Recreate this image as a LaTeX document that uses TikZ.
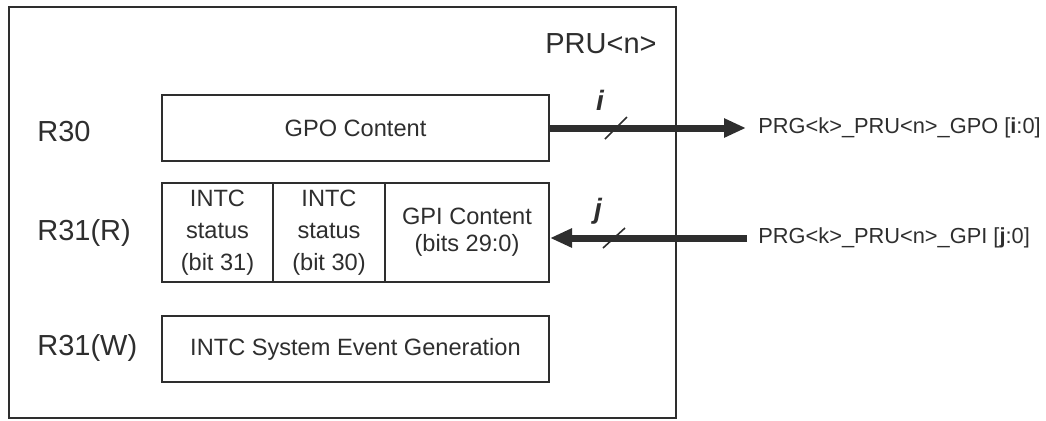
\documentclass[tikz,border=0pt]{standalone}
\usepackage{fontspec}
\setmainfont{Liberation Sans}
\usetikzlibrary{arrows.meta}
\colorlet{ink}{black!82}

\begin{document}
\begin{tikzpicture}[x=0.5pt,y=-0.5pt,
  regbox/.style={draw=ink,line width=1pt,inner sep=0pt,text=ink,align=center,
    font=\fontsize{11.8}{16}\selectfont},
  reglabel/.style={anchor=west,inner sep=0pt,text=ink,font=\fontsize{14.5}{17}\selectfont},
  pinlabel/.style={anchor=west,inner sep=0pt,text=ink,font=\fontsize{10.9}{13}\selectfont},
  bus/.style={draw=ink,line width=3.5pt,-{Triangle[length=11pt,width=9pt]}},
  buswidth/.style={inner sep=0pt,text=ink,font=\fontsize{14}{16}\selectfont\bfseries\itshape},
  tick/.style={draw=ink,line width=0.8pt}]
  \useasboundingbox (0,0) rectangle (1046,420);

  \node[draw=ink,line width=1pt,minimum width=333.5pt,minimum height=205.5pt] (pru) at (342.5,212.5) {};
  \node[anchor=east,inner sep=0pt,text=ink,font=\fontsize{14.5}{17}\selectfont] (pruname) at (657,44) {PRU<n>};

  \node[reglabel] (r30) at (37,132) {R30};
  \node[reglabel] (r31r) at (37,233) {R31(R)};
  \node[reglabel] (r31w) at (37,348) {R31(W)};

  \node[regbox,minimum width=193.5pt,minimum height=33pt] (gpo) at (355.5,128) {GPO Content};
  \node[regbox,minimum width=55.5pt,minimum height=49.5pt] (st31) at (217.5,232.5) {INTC\\status\\(bit 31)};
  \node[regbox,minimum width=56pt,minimum height=49.5pt] (st30) at (329,232.5) {INTC\\status\\(bit 30)};
  \node[regbox,minimum width=82pt,minimum height=49.5pt,font=\fontsize{11.8}{13.5}\selectfont] (gpi) at (467,232.5) {GPI Content\\(bits 29:0)};
  \node[regbox,minimum width=193.5pt,minimum height=33pt] (evgen) at (355.5,349) {INTC System Event Generation};

  \node[pinlabel] (gpoout) at (758,128) {PRG<k>\_PRU<n>\_GPO [\textbf{i}:0]};
  \node[pinlabel] (gpiin) at (758,238) {PRG<k>\_PRU<n>\_GPI [\textbf{j}:0]};

  \draw[bus,shorten >=6pt] (gpo.east) -- (gpo.east -| gpoout.west);
  \draw[bus,shorten <=5.5pt] (gpiin.west) -- (gpi.east |- gpiin.west);

  \coordinate (islash) at (616,128);
  \coordinate (jslash) at (614,238);
  \draw[tick] (islash) ++(-11,11) -- ++(22,-22);
  \draw[tick] (jslash) ++(-11,10) -- ++(22,-20);
  \node[buswidth] (iwidth) at (600,100) {i};
  \node[buswidth] (jwidth) at (598,211) {j};
\end{tikzpicture}
\end{document}
